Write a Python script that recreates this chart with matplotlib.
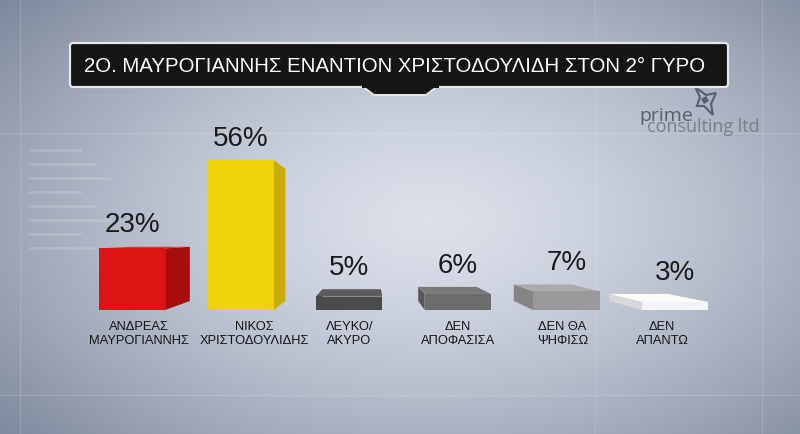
import numpy as np
import matplotlib
matplotlib.use("Agg")
import matplotlib.pyplot as plt
from matplotlib.patches import Polygon, FancyBboxPatch

# data
categories = ["ΑΝΔΡΕΑΣ\nΜΑΥΡΟΓΙΑΝΝΗΣ", "ΝΙΚΟΣ\nΧΡΙΣΤΟΔΟΥΛΙΔΗΣ", "ΛΕΥΚΟ/\nΑΚΥΡΟ",
              "ΔΕΝ\nΑΠΟΦΑΣΙΣΑ", "ΔΕΝ ΘΑ\nΨΗΦΙΣΩ", "ΔΕΝ\nΑΠΑΝΤΩ"]
values = [23, 56, 5, 6, 7, 3]
front_colors = ["#dd1414", "#f0d20a", "#4b4b4b", "#6c6c6c", "#9a9a9a", "#f4f4f4"]
side_colors = ["#a80c0c", "#c9ad06", "#383838", "#575757", "#858585", "#d8d8d8"]
top_colors = ["#e83030", "#f7df30", "#5c5c5c", "#7a7a7a", "#ababab", "#fbfbfb"]
title = "2Ο. ΜΑΥΡΟΓΙΑΝΝΗΣ ΕΝΑΝΤΙΟΝ ΧΡΙΣΤΟΔΟΥΛΙΔΗ ΣΤΟΝ 2° ΓΥΡΟ"
# horizontal nudge of each category label, in pixels
label_shift = [7, 14, 0, 0, -4, -13]

plt.rcParams["font.family"] = ["Liberation Sans", "DejaVu Sans"]

fig = plt.figure(figsize=(8, 4.34), dpi=100)

# background
bg = fig.add_axes([0, 0, 1, 1])
bg.set_xlim(0, 800)
bg.set_ylim(434, 0)
bg.axis("off")
yy, xx = np.mgrid[0:434, 0:800]
r = np.sqrt(((xx - 430) / 560.0) ** 2 + ((yy - 220) / 330.0) ** 2)
r = np.clip(r, 0, 1) ** 1.4
light = np.array([0.86, 0.88, 0.92])
dark = np.array([0.50, 0.54, 0.62])
img = light[None, None, :] * (1 - r[..., None]) + dark[None, None, :] * r[..., None]
bg.imshow(img, extent=(0, 800, 434, 0), aspect="auto", zorder=0)

# faint interface lines
for yl in [133, 395]:
    bg.plot([0, 800], [yl, yl], color="white", alpha=0.15, lw=0.8, zorder=1)
for xl in [20, 595, 762]:
    bg.plot([xl, xl], [0, 434], color="white", alpha=0.15, lw=0.8, zorder=1)
for k in range(8):
    bg.plot([30, 80 + (k % 3) * 15], [150 + k * 14, 150 + k * 14],
            color="white", alpha=0.15, lw=2, zorder=1)

# title box
bg.add_patch(FancyBboxPatch((70, 43), 658, 44, boxstyle="round,pad=0,rounding_size=3",
                            facecolor="#151515", edgecolor="#e6e6e6", lw=1.6, zorder=3))
bg.add_patch(Polygon([(362, 86), (374, 95), (426, 95), (438, 86)], closed=True,
                     facecolor="#151515", edgecolor="#e6e6e6", lw=1.4, zorder=3))
bg.plot([363, 437], [86, 86], color="#151515", lw=2.2, zorder=4)
bg.text(395, 66, title, color="white", fontsize=14.7, ha="center", va="center", zorder=5)

# logo
bg.text(639, 121, "prime", color="#56606f", fontsize=14, family="Open Sans", zorder=2)
bg.text(647, 132, "consulting ltd", color="#7a808b", fontsize=13, family="Open Sans", zorder=2)
bg.add_patch(Polygon([(695, 87), (706, 95), (716, 93), (711, 104), (713, 115), (704, 106), (697, 106), (700, 97)],
                     closed=True, facecolor="none", edgecolor="#56606f", lw=1.5, zorder=2))
bg.add_patch(Polygon([(701, 99), (706, 96), (709, 101), (704, 104)], closed=True,
                     facecolor="#56606f", lw=0, zorder=2))

# bar axes
cx0, step, base = 132, 108.6, 310
px_per_unit = 150 / 56
ymax = 60
ax = fig.add_axes([(cx0 - step / 2) / 800, (434 - base) / 434,
                   step * 6 / 800, ymax * px_per_unit / 434])
ax.set_xlim(-0.5, 5.5)
ax.set_ylim(0, ymax)
ax.patch.set_alpha(0)
for s in ax.spines.values():
    s.set_visible(False)
ax.set_xticks([])
ax.set_yticks([])

w = 0.61
vx, vy, sc = 2.2, 28, 0.88


def back(p):
    return (vx + sc * (p[0] - vx), vy + sc * (p[1] - vy))


for i, v in enumerate(values):
    x0, x1 = i - w / 2, i + w / 2
    if x1 < vx:
        side = [(x1, 0), (x1, v), back((x1, v)), back((x1, 0))]
    else:
        side = [(x0, 0), (x0, v), back((x0, v)), back((x0, 0))]
    ax.add_patch(Polygon(side, closed=True, facecolor=side_colors[i], lw=0, zorder=2))
    if v < vy:
        top = [(x0, v), (x1, v), back((x1, v)), back((x0, v))]
        ax.add_patch(Polygon(top, closed=True, facecolor=top_colors[i], lw=0, zorder=2))
    ax.bar(i, v, width=w, color=front_colors[i], zorder=3)
    label_y = max(v, back((x0, v))[1])
    ax.annotate(f"{v}%", (i, label_y), xytext=(0, 6), textcoords="offset points",
                ha="center", va="bottom", fontsize=20, color="#1a1a1a", zorder=4)
    ax.annotate(categories[i], (i, 0), xytext=(label_shift[i] * 0.72, -8),
                textcoords="offset points", ha="center", va="top",
                fontsize=9.3, color="#141414", linespacing=1.25, annotation_clip=False)

fig.savefig("out.png", dpi=100)
